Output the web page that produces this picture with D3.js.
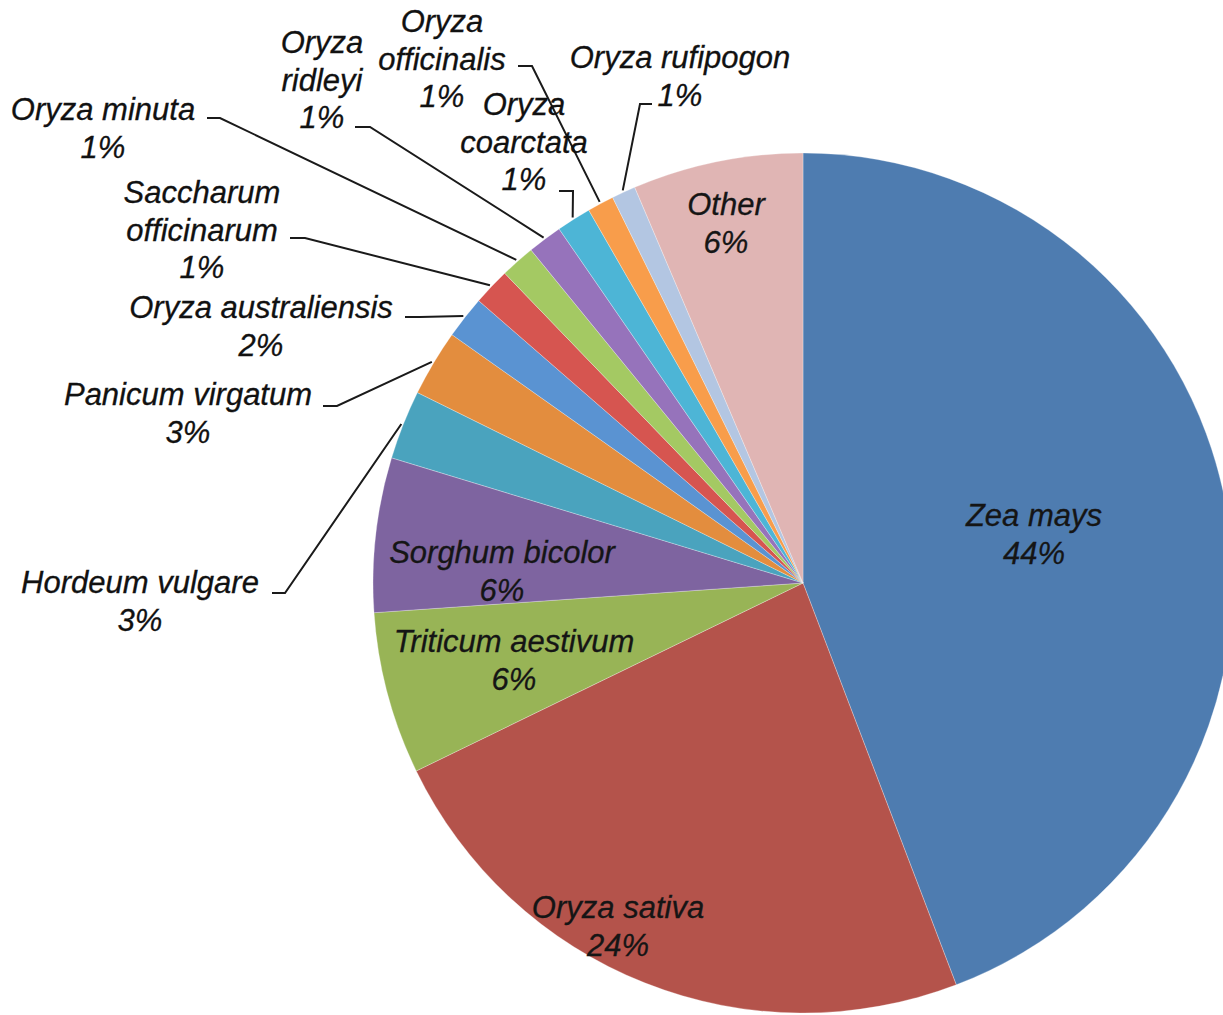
<!DOCTYPE html>
<html>
<head>
<meta charset="utf-8">
<script src="https://cdn.jsdelivr.net/npm/d3@7"></script>
<style>
  html, body { margin: 0; padding: 0; background: #fff; }
  svg { display: block; }
  text { font-family: "Liberation Sans", Arial, sans-serif; font-style: italic; }
</style>
</head>
<body>
<svg id="chart" width="1223" height="1015"></svg>
<script>
// ---- data ----
const species = [
  "Zea mays", "Oryza sativa", "Triticum aestivum", "Sorghum bicolor",
  "Hordeum vulgare", "Panicum virgatum", "Oryza australiensis",
  "Saccharum officinarum", "Oryza minuta", "Oryza ridleyi",
  "Oryza coarctata", "Oryza officinalis", "Oryza rufipogon", "Other"
];
const shares = [44.2, 23.6, 6.1, 5.8, 2.6, 2.5, 1.6, 1.4, 1.3, 1.3, 1.3, 1.0, 0.9, 6.4];
const pctLabels = ["44%", "24%", "6%", "6%", "3%", "3%", "2%", "1%", "1%", "1%", "1%", "1%", "1%", "6%"];

// ---- styles / layout ----
const colors = [
  "#4e7cb0", "#b4534b", "#98b456", "#7e64a0", "#4aa3be", "#e38d3e", "#5a93d2",
  "#d65550", "#a4c963", "#9673bb", "#4db5d6", "#f89d4b", "#b3c6e2", "#e0b5b4"
];
// label layout: text lines (name split), centre x, first baseline y, inside?, leader tick [x0, x1, y]
const labelLayout = [
  { lines: ["Zea mays"], x: 1034, y: 526, inside: true },
  { lines: ["Oryza sativa"], x: 618, y: 918, inside: true },
  { lines: ["Triticum aestivum"], x: 514, y: 652, inside: true },
  { lines: ["Sorghum bicolor"], x: 502, y: 563, inside: true },
  { lines: ["Hordeum vulgare"], x: 140, y: 593, tick: [272, 285, 593] },
  { lines: ["Panicum virgatum"], x: 188, y: 405, tick: [323, 337, 406] },
  { lines: ["Oryza australiensis"], x: 261, y: 318, tick: [405, 420, 317] },
  { lines: ["Saccharum", "officinarum"], x: 202, y: 203, tick: [290, 305, 238] },
  { lines: ["Oryza minuta"], x: 103, y: 120, tick: [207, 220, 118] },
  { lines: ["Oryza", "ridleyi"], x: 322, y: 53, tick: [355, 370, 127] },
  { lines: ["Oryza", "coarctata"], x: 524, y: 115, tick: [559, 573, 191] },
  { lines: ["Oryza", "officinalis"], x: 442, y: 32, tick: [518, 532, 66] },
  { lines: ["Oryza rufipogon"], x: 680, y: 68, tick: [652, 640, 104] },
  { lines: ["Other"], x: 726, y: 215, inside: true }
];

const cx = 803, cy = 583, R = 430;
const fontSize = 31, lineH = 37.5;

const svg = d3.select("#chart");
const g = svg.append("g").attr("transform", `translate(${cx},${cy})`);

const data = species.map((s, i) => ({ name: s, value: shares[i], pct: pctLabels[i], i }));
const pie = d3.pie().sort(null).value(d => d.value);
const arcs = pie(data);
const arc = d3.arc().innerRadius(0).outerRadius(R);

g.selectAll("path.slice")
  .data(arcs)
  .join("path")
  .attr("class", "slice")
  .attr("d", arc)
  .attr("fill", d => colors[d.data.i])
  .attr("stroke", "rgba(255,255,255,0.35)")
  .attr("stroke-width", 0.8);

// leader lines
const leaders = svg.append("g");
arcs.forEach(a => {
  const L = labelLayout[a.data.i];
  if (L.inside) return;
  const mid = (a.startAngle + a.endAngle) / 2;
  const ex = cx + (R + 2) * Math.sin(mid);
  const ey = cy - (R + 2) * Math.cos(mid);
  const [x0, x1, ty] = L.tick;
  leaders.append("path")
    .attr("d", d3.line()([[x0, ty], [x1, ty], [ex, ey]]))
    .attr("fill", "none")
    .attr("stroke", "#1a1a1a")
    .attr("stroke-width", 2);
});

// labels
const labels = svg.append("g");
arcs.forEach(a => {
  const L = labelLayout[a.data.i];
  const col = L.inside ? "#151515" : "#111";
  const t = labels.append("text")
    .attr("text-anchor", "middle")
    .attr("font-size", fontSize)
    .attr("fill", col)
    .attr("stroke", col)
    .attr("stroke-width", 0.3);
  const lines = L.lines.concat([a.data.pct]);
  lines.forEach((ln, k) => {
    t.append("tspan").attr("x", L.x).attr("y", L.y + k * lineH).text(ln);
  });
});
</script>
</body>
</html>
